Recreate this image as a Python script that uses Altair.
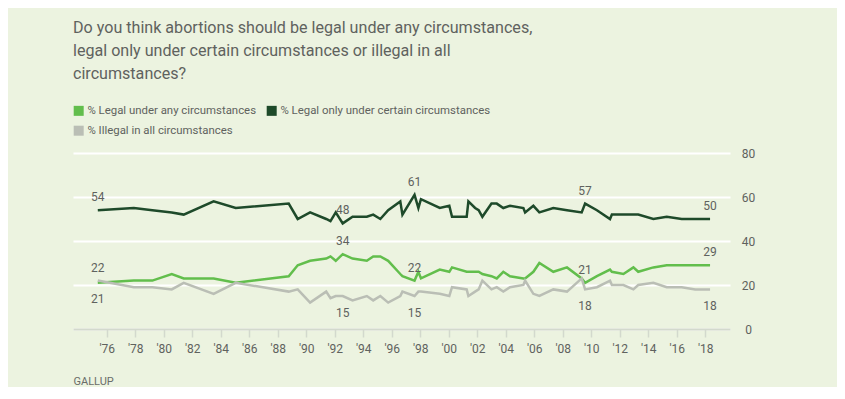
import altair as alt
import pandas as pd

# ---- data ----
dates = [1975.37, 1977.9, 1979.2, 1980.56, 1981.4, 1983.5, 1985.05, 1988.77, 1989.4,
         1990.27, 1991.4, 1991.7, 1992.07, 1992.56, 1993.25, 1994.25, 1994.7, 1995.2,
         1995.75, 1996.6, 1996.75, 1997.6, 1997.87, 1998.05, 1999.37, 2000.04, 2000.23,
         2001.26, 2001.38, 2001.85, 2002.1, 2002.36, 2003.0, 2003.37, 2003.83, 2004.3,
         2005.24, 2005.36, 2005.94, 2006.36, 2007.34, 2008.3, 2009.33, 2009.57, 2010.4,
         2011.32, 2011.45, 2012.26, 2012.96, 2013.3, 2014.36, 2015.3, 2016.35, 2017.3,
         2018.34]
legal_any = [21, 22, 22, 25, 23, 23, 21, 24, 29,
             31, 32, 33, 31, 34, 32, 31, 33, 33,
             31, 25, 24, 22, 26, 23, 27, 26, 28,
             26, 26, 26, 26, 25, 24, 23, 26, 24,
             23, 23, 26, 30, 26, 28, 23, 21, 24,
             27, 26, 25, 28, 26, 28, 29, 29, 29,
             29]
legal_certain = [54, 55, 54, 53, 52, 58, 55, 57, 50,
                 53, 50, 49, 53, 48, 51, 51, 52, 50,
                 54, 58, 52, 61, 55, 59, 55, 56, 51,
                 51, 58, 55, 54, 51, 57, 57, 55, 56,
                 55, 53, 56, 53, 55, 54, 53, 57, 54,
                 50, 52, 52, 52, 52, 50, 51, 50, 50,
                 50]
illegal = [22, 19, 19, 18, 21, 16, 21, 17, 18,
           12, 17, 14, 15, 15, 13, 15, 13, 15,
           12, 15, 17, 15, 17, 17, 16, 15, 19,
           18, 15, 17, 18, 22, 18, 19, 17, 19,
           20, 22, 16, 15, 18, 17, 23, 18, 19,
           22, 20, 20, 18, 20, 21, 19, 19, 18,
           18]

series_names = ["% Legal under any circumstances",
                "% Legal only under certain circumstances",
                "% Illegal in all circumstances"]
series_colors = ["#62BE4C", "#1E4A2A", "#BABEB5"]

label_dates = [1975.37, 1975.37, 1975.37,
               1992.56, 1992.56, 1992.56,
               1997.6, 1997.6, 1997.6,
               2009.57, 2009.57, 2009.57,
               2018.34, 2018.34, 2018.34]
label_values = [54, 22, 21,
                48, 34, 15,
                61, 22, 15,
                57, 21, 18,
                50, 29, 18]
label_side = ["above", "above", "below",
              "above", "above", "below",
              "above", "above", "below",
              "above", "above", "below",
              "above", "above", "below"]

x_ticks = list(range(1976, 2019, 2))
y_ticks = [0, 20, 40, 60, 80]

title_lines = ["Do you think abortions should be legal under any circumstances,",
               "legal only under certain circumstances or illegal in all",
               "circumstances?"]

# ---- tables ----
rows = []
for name, vals in zip(series_names, [legal_any, legal_certain, illegal]):
    for d, v in zip(dates, vals):
        rows.append({"date": d, "series": name, "value": v})
df = pd.DataFrame(rows)

lab = pd.DataFrame({"date": label_dates, "value": label_values, "side": label_side})
lab["text"] = lab["value"].astype(str)

FONT = "Roboto"
TXT = "#5F625E"

x_enc = alt.X("date:Q",
              scale=alt.Scale(domain=[1973.63, 2019.74], nice=False, zero=False),
              axis=alt.Axis(values=x_ticks, format="d",
                            labelExpr="\"'\" + slice(datum.label, 2)",
                            labelOverlap=False, labelSeparation=0,
                            grid=False, domainColor="#D3D9CD", domainWidth=2,
                            tickColor="#D3D9CD", tickSize=8, tickWidth=1.5,
                            labelColor=TXT, labelFontSize=12, labelFont=FONT,
                            labelPadding=6,
                            title="GALLUP", titleAnchor="start", titleAlign="left",
                            titleX=0, titleY=52, titleBaseline="middle",
                            titleFont=FONT, titleFontSize=11, titleFontWeight="normal",
                            titleColor="#6A6D69", zindex=1))
y_enc = alt.Y("value:Q",
              scale=alt.Scale(domain=[0, 80], nice=False),
              axis=alt.Axis(orient="right", values=y_ticks, grid=True,
                            gridColor="#FFFFFF", gridWidth=2, domain=False,
                            ticks=False, labelAlign="center", labelPadding=18,
                            labelColor=TXT, labelFontSize=12, labelFont=FONT,
                            title=None, zindex=0))

lines = alt.Chart(df).mark_line(strokeWidth=2.5).encode(
    x=x_enc,
    y=y_enc,
    color=alt.Color("series:N",
                    scale=alt.Scale(domain=series_names, range=series_colors),
                    legend=alt.Legend(title=None, orient="none", legendX=0, legendY=-48,
                                      direction="horizontal",
                                      columns=2, columnPadding=0, rowPadding=-10,
                                      symbolType="square", symbolSize=16,
                                      symbolStrokeWidth=6, labelOffset=3,
                                      labelFont=FONT, labelFontSize=11.4,
                                      labelColor=TXT, labelLimit=400)),
)

above = alt.Chart(lab).transform_filter(alt.datum.side == "above").mark_text(
    font=FONT, fontSize=12, color=TXT, dy=-13, baseline="middle").encode(
    x=x_enc, y=y_enc, text="text:N")
below = alt.Chart(lab).transform_filter(alt.datum.side == "below").mark_text(
    font=FONT, fontSize=12, color=TXT, dy=16.5, baseline="middle").encode(
    x=x_enc, y=y_enc, text="text:N")

chart = alt.layer(lines, above, below).properties(
    width=657, height=176,
    autosize=alt.AutoSizeParams(type="none"),
    padding={"left": 65, "top": 145, "right": 107, "bottom": 58},
    background="#ECF3E0",
    title=alt.TitleParams(text=title_lines, anchor="start", frame="group",
                          font=FONT, fontSize=16.1, fontWeight="normal",
                          color=TXT, lineHeight=23, offset=10, dy=-13),
).configure_view(stroke=None).configure_axisX(labelOverlap=False)

chart.save("out.html", embed_options={"renderer": "svg", "actions": False})
